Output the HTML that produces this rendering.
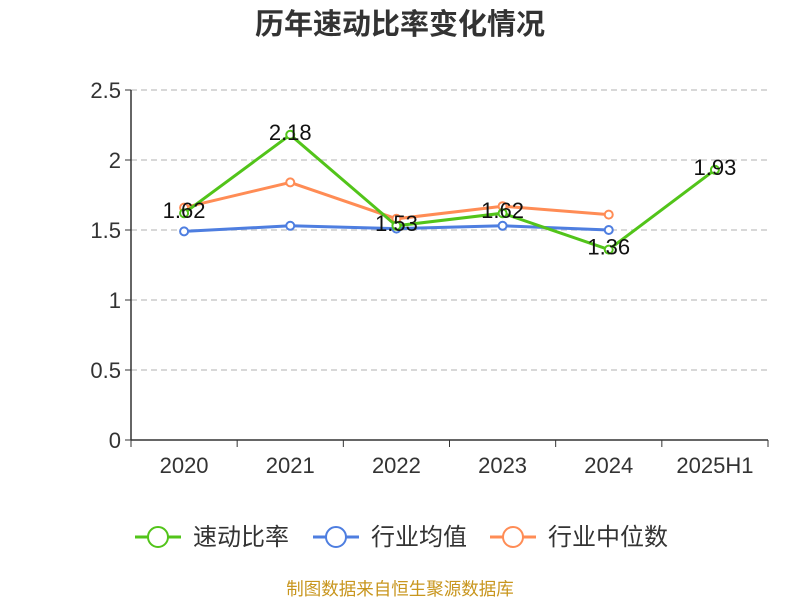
<!DOCTYPE html>
<html><head><meta charset="utf-8">
<style>
body{margin:0;background:#fff;}
svg{display:block;font-family:"Liberation Sans","Noto Sans CJK SC",sans-serif;}
</style></head>
<body>
<svg id="chart" width="800" height="600" viewBox="0 0 800 600">
<text x="400" y="34" text-anchor="middle" font-size="29" font-weight="bold" fill="#333">历年速动比率变化情况</text>
<g id="grid"></g><g id="axes"></g><g id="series"></g>
<g>
<g>
<line x1="135" y1="537" x2="181" y2="537" stroke="#52c41a" stroke-width="3"/><circle cx="158" cy="537" r="10" fill="#fff" stroke="#52c41a" stroke-width="2"/>
<text x="193" y="545" font-size="24" fill="#333">速动比率</text></g>
<g>
<line x1="313" y1="537" x2="359" y2="537" stroke="#4e7ee0" stroke-width="3"/><circle cx="336" cy="537" r="10" fill="#fff" stroke="#4e7ee0" stroke-width="2"/>
<text x="371" y="545" font-size="24" fill="#333">行业均值</text></g>
<g>
<line x1="490" y1="537" x2="536" y2="537" stroke="#ff8c55" stroke-width="3"/><circle cx="513" cy="537" r="10" fill="#fff" stroke="#ff8c55" stroke-width="2"/>
<text x="548" y="545" font-size="24" fill="#333">行业中位数</text></g>
</g>
<text x="400" y="595" text-anchor="middle" font-size="17.5" fill="#c8961e">制图数据来自恒生聚源数据库</text>
</svg>
<script>
const categories=["2020","2021","2022","2023","2024","2025H1"];
const quickRatio=[1.62,2.18,1.53,1.62,1.36,1.93];
const industryMean=[1.49,1.53,1.51,1.53,1.50];
const industryMedian=[1.66,1.84,1.58,1.67,1.61];
const yTicks=[0,0.5,1,1.5,2,2.5];
const yTickLabels=["0","0.5","1","1.5","2","2.5"];
const NS="http://www.w3.org/2000/svg";
const X0=131,X1=768,Y0=440,YMAX=2.5,H=350;
const bw=(X1-X0)/categories.length;
const xs=i=>X0+bw*(i+0.5);
const ys=v=>Y0-v/YMAX*H;
function mk(t,a,p){const e=document.createElementNS(NS,t);for(const k in a)e.setAttribute(k,a[k]);p.appendChild(e);return e;}
const grid=document.getElementById('grid'),axes=document.getElementById('axes'),ser=document.getElementById('series');
yTicks.forEach((v,i)=>{
 if(v>0){const g=mk('line',{x1:X0,x2:X1,y1:ys(v),y2:ys(v),stroke:'#ccc','stroke-dasharray':'6,4','stroke-width':1.5},grid);
 
 }
 const tk=mk('line',{x1:X0-6,x2:X0,y1:ys(v),y2:ys(v),stroke:'#333'},axes);
 
 
 const t=mk('text',{x:X0-10,y:ys(v)+8,'text-anchor':'end','font-size':22,fill:'#333'},axes);
 t.textContent=yTickLabels[i];
 
 
});
const ya=mk('line',{x1:X0,x2:X0,y1:ys(YMAX),y2:Y0,stroke:'#333','stroke-width':1.5},axes);


const xa=mk('line',{x1:X0,x2:X1,y1:Y0,y2:Y0,stroke:'#333','stroke-width':1.5},axes);


for(let i=0;i<=categories.length;i++){
 const tk=mk('line',{x1:X0+bw*i,x2:X0+bw*i,y1:Y0,y2:Y0+7,stroke:'#333'},axes);
 
 
}
categories.forEach((c,i)=>{
 const t=mk('text',{x:xs(i),y:473,'text-anchor':'middle','font-size':22,fill:'#333'},axes);
 t.textContent=c;
 
 
});
function series(vals,color,name){
 const pts=vals.map((v,i)=>xs(i)+','+ys(v)).join(' ');
 const l=mk('polyline',{points:pts,fill:'none',stroke:color,'stroke-width':3},ser);
 
 
 vals.forEach((v,i)=>{
  const c=mk('circle',{cx:xs(i),cy:ys(v),r:4,fill:'#fff',stroke:color,'stroke-width':2},ser);
  
  
 });
}
series(industryMedian,'#ff8c55','industry-median');
series(industryMean,'#4e7ee0','industry-mean');
series(quickRatio,'#52c41a','quick-ratio');
quickRatio.forEach((v,i)=>{
 const t=mk('text',{x:xs(i),y:ys(v)+5,'text-anchor':'middle','font-size':22,fill:'#111'},ser);
 t.textContent=v.toFixed(2);
 
 
});
</script>
</body></html>
